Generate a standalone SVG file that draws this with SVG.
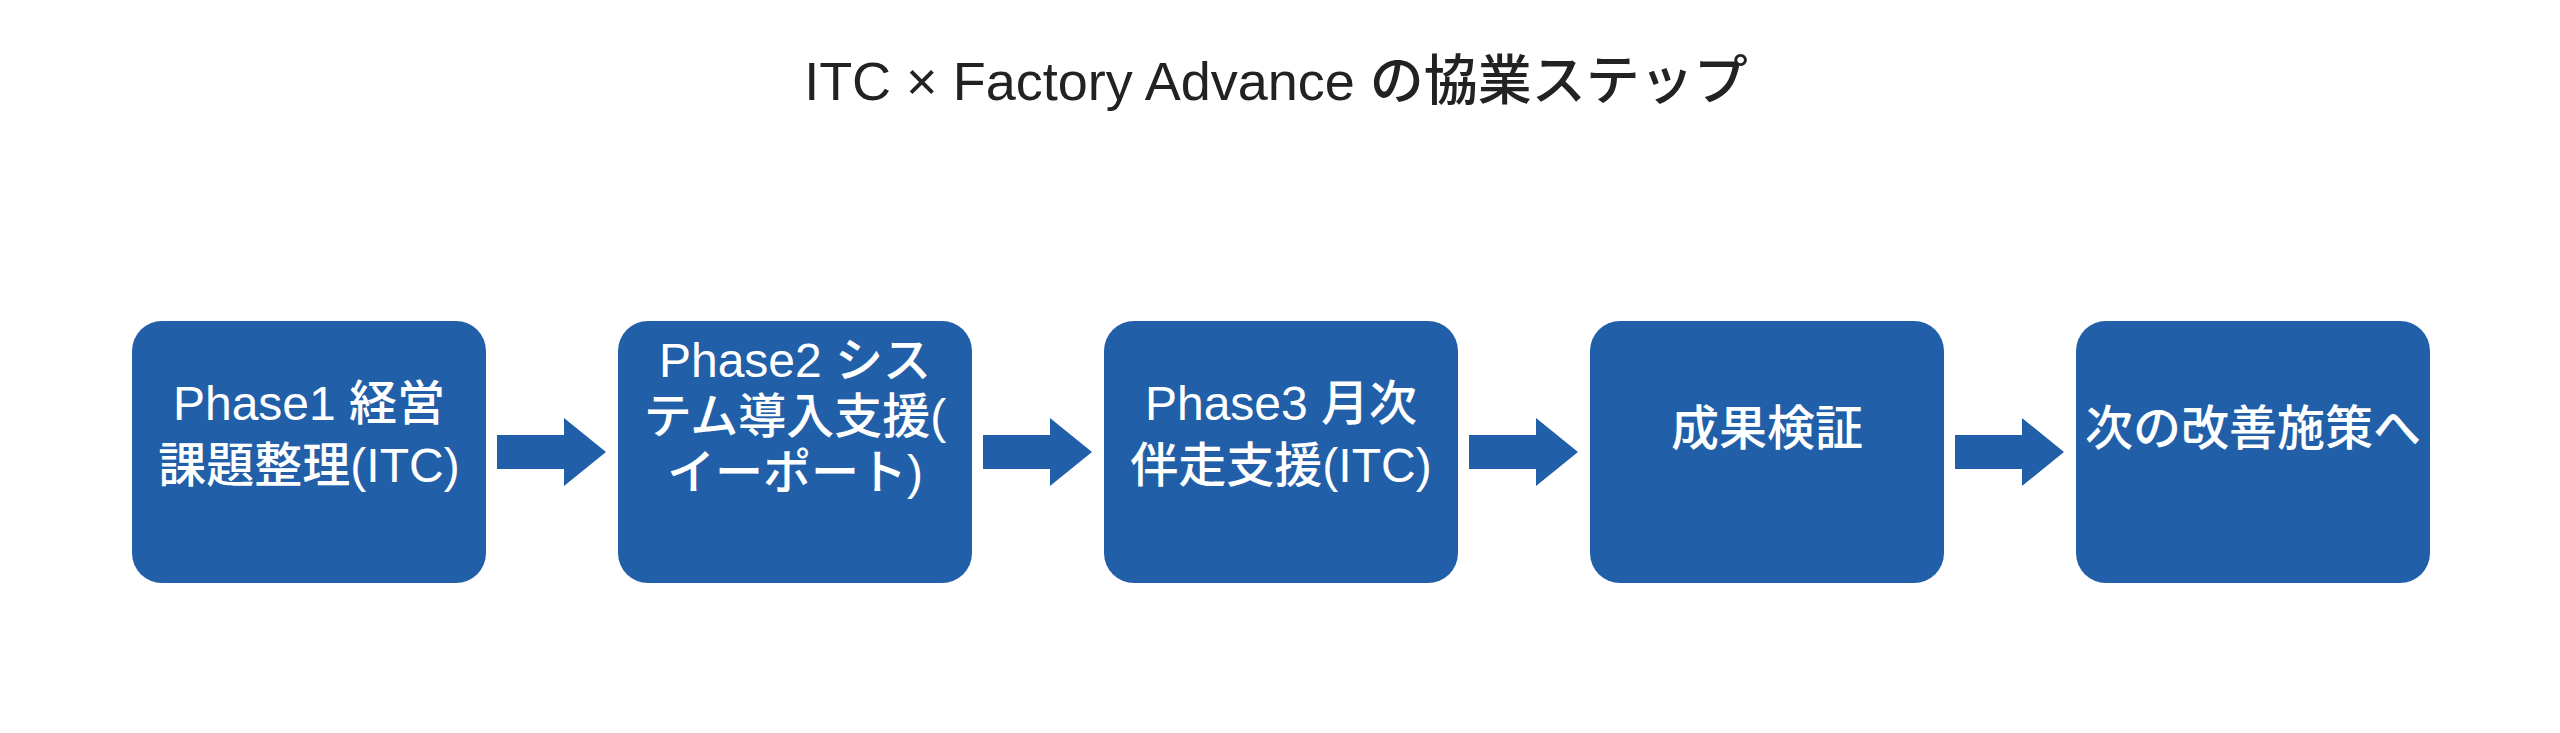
<svg xmlns="http://www.w3.org/2000/svg" width="2560" height="733" viewBox="0 0 2560 733">
<style>
.box{fill:#2160A8}
.t{font-family:"Liberation Sans","Noto Sans CJK JP",sans-serif;font-size:48px;fill:#fff;text-anchor:middle;font-weight:500}
.title{font-family:"Liberation Sans","Noto Sans CJK JP",sans-serif;font-size:54px;fill:#222;text-anchor:middle;font-weight:500}
.ar{fill:#2160A8}
</style>
<rect width="2560" height="733" fill="#fff"/>
<text class="title" x="1276" y="100">ITC × Factory Advance の協業ステップ</text>
<g id="n1"><rect class="box" x="132" y="321" width="354" height="262" rx="30"/>
<text class="t" x="309" y="420">Phase1 経営</text><text class="t" x="309" y="482">課題整理(ITC)</text></g>
<g id="n2"><rect class="box" x="618" y="321" width="354" height="262" rx="30"/>
<text class="t" x="795" y="377">Phase2 シス</text><text class="t" x="795" y="433">テム導入支援(</text><text class="t" x="795" y="489">イーポート)</text></g>
<g id="n3"><rect class="box" x="1104" y="321" width="354" height="262" rx="30"/>
<text class="t" x="1281" y="420">Phase3 月次</text><text class="t" x="1281" y="482">伴走支援(ITC)</text></g>
<g id="n4"><rect class="box" x="1590" y="321" width="354" height="262" rx="30"/>
<text class="t" x="1767" y="445">成果検証</text></g>
<g id="n5"><rect class="box" x="2076" y="321" width="354" height="262" rx="30"/>
<text class="t" x="2253" y="445">次の改善施策へ</text></g>
<g id="connectors">
<path class="ar" d="M497 435H564V418L606 452L564 486V469H497Z"/>
<path class="ar" d="M983 435H1050V418L1092 452L1050 486V469H983Z"/>
<path class="ar" d="M1469 435H1536V418L1578 452L1536 486V469H1469Z"/>
<path class="ar" d="M1955 435H2022V418L2064 452L2022 486V469H1955Z"/>
</g>
</svg>
